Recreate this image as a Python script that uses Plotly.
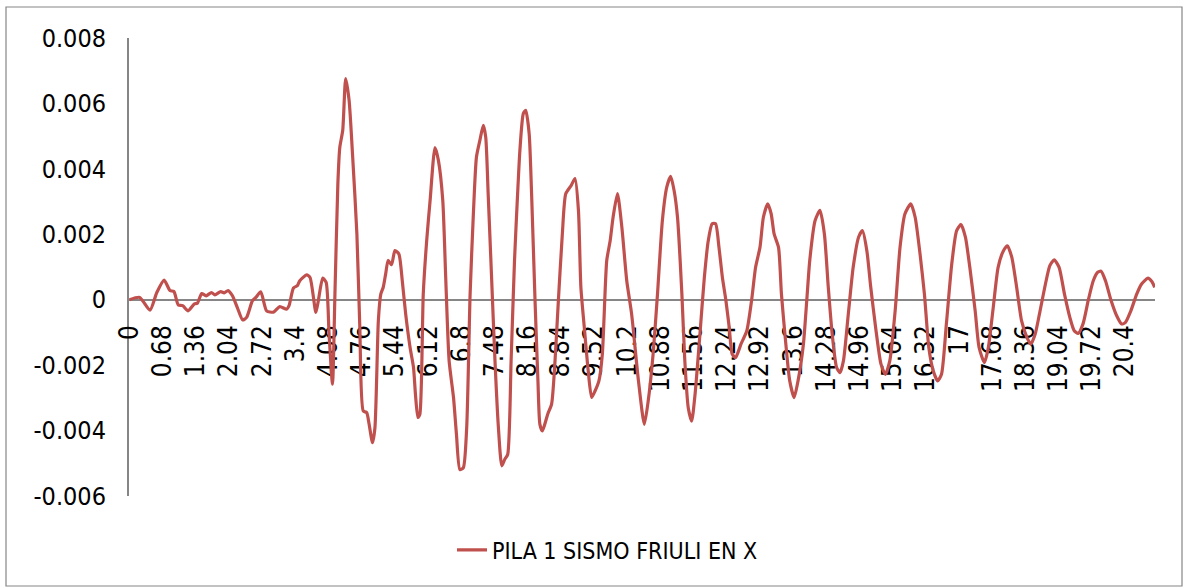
import plotly.graph_objects as go

# Time (s) and displacement values
time_s = [0, 0.21, 0.42, 0.56, 0.71, 0.83, 0.91, 1.0, 1.09, 1.2, 1.33, 1.39, 1.48, 1.57, 1.68, 1.75,
          1.87, 1.94, 2.02, 2.11, 2.21, 2.32, 2.4, 2.52, 2.59, 2.69, 2.81, 2.95, 3.08, 3.22, 3.27,
          3.36, 3.44, 3.49, 3.63, 3.70, 3.82, 3.87, 3.96, 4.03, 4.09, 4.16, 4.21, 4.27, 4.31, 4.37,
          4.43, 4.50, 4.57, 4.66, 4.72, 4.79, 4.86, 4.91, 4.98, 5.03, 5.10, 5.15, 5.20, 5.25, 5.30,
          5.37, 5.44, 5.52, 5.59, 5.66, 5.75, 5.82, 5.86, 5.91, 5.95, 6.02, 6.09, 6.16, 6.26, 6.33,
          6.42, 6.48, 6.55, 6.64, 6.70, 6.77, 6.84, 6.91, 6.98, 7.05, 7.11, 7.18, 7.25, 7.30, 7.35,
          7.42, 7.49, 7.56, 7.63, 7.69, 7.75, 7.82, 7.89, 7.96, 8.00, 8.07, 8.12, 8.19, 8.24, 8.31,
          8.37, 8.41, 8.46, 8.51, 8.57, 8.65, 8.72, 8.79, 8.87, 8.94, 9.05, 9.13, 9.20, 9.25, 9.32,
          9.40, 9.47, 9.54, 9.62, 9.69, 9.78, 9.85, 9.91, 10.00, 10.09, 10.19, 10.29, 10.43, 10.55,
          10.63, 10.73, 10.82, 10.92, 11.01, 11.09, 11.16, 11.23, 11.32, 11.38, 11.45, 11.52, 11.59,
          11.69, 11.78, 11.86, 11.94, 12.01, 12.08, 12.15, 12.22, 12.29, 12.35, 12.42, 12.53, 12.65,
          12.75, 12.83, 12.92, 12.99, 13.08, 13.15, 13.21, 13.30, 13.36, 13.45, 13.53, 13.62, 13.70,
          13.81, 13.88, 13.94, 14.05, 14.15, 14.24, 14.32, 14.40, 14.49, 14.56, 14.63, 14.73, 14.83,
          14.94, 15.02, 15.11, 15.19, 15.29, 15.40, 15.49, 15.58, 15.69, 15.79, 15.89, 16.01, 16.10,
          16.20, 16.29, 16.38, 16.47, 16.56, 16.64, 16.74, 16.85, 16.95, 17.04, 17.13, 17.22, 17.33,
          17.41, 17.52, 17.60, 17.70, 17.80, 17.91, 17.99, 18.08, 18.18, 18.28, 18.39, 18.47, 18.56,
          18.66, 18.77, 18.86, 18.95, 19.05, 19.16, 19.27, 19.36, 19.44, 19.54, 19.65, 19.75, 19.84,
          19.91, 20.00, 20.11, 20.23, 20.33, 20.41, 20.52, 20.64, 20.74, 20.87, 20.95, 21.01]

pila1_x = [0, 0.00007, -0.00032, 0.00022, 0.0006, 0.00028, 0.00025, -0.00016, -0.00018, -0.00034,
           -0.00013, -0.00011, 0.00019, 0.00012, 0.00022, 0.00015, 0.00025, 0.00021, 0.00028, 0.00012,
           -0.00024, -0.00062, -0.00054, -0.00003, 0.00007, 0.00024, -0.00034, -0.00038, -0.00021,
           -0.00029, -0.00018, 0.00036, 0.00043, 0.00058, 0.00076, 0.00068, -0.00039, -0.00003, 0.00066,
           0.00053, -0.00105, -0.00258, 0.00017, 0.00354, 0.00466, 0.00518, 0.00676, 0.0061, 0.00446,
           0.00201, -0.00085, -0.0034, -0.00345, -0.0038, -0.00437, -0.00391, -0.00064, 0.00017, 0.00038,
           0.00079, 0.0012, 0.00107, 0.0015, 0.0014, 0.00058, -0.00044, -0.00146, -0.00207, -0.00289,
           -0.0036, -0.0035, 0.00017, 0.0018, 0.00303, 0.00465, 0.00426, 0.00303, 0.00068, -0.00187,
           -0.00299, -0.00411, -0.00519, -0.00514, -0.00391, 0.00017, 0.00273, 0.00436, 0.00487, 0.00533,
           0.00497, 0.00324, 0.00068, -0.00187, -0.00391, -0.00508, -0.00488, -0.00473, -0.00187, 0.0012,
           0.00344, 0.00456, 0.00569, 0.00579, 0.00508, 0.00324, 0, -0.00248, -0.00381, -0.00401,
           -0.00381, -0.0035, -0.00319, -0.00187, 0, 0.00201, 0.00324, 0.00349, 0.0037, 0.00273, 0.00038,
           -0.00085, -0.00217, -0.00299, -0.00279, -0.00248, -0.00166, 0.0012, 0.0018, 0.00252, 0.00324,
           0.00221, 0.00058, -0.00044, -0.00248, -0.00381, -0.00309, -0.00166, 0.00017, 0.00242, 0.00344,
           0.00377, 0.00334, 0.00252, 0.00017, -0.00187, -0.0033, -0.00371, -0.00289, -0.00105, 0.00068,
           0.0018, 0.00232, 0.00232, 0.0016, 0.00068, 0, -0.00085, -0.00166, -0.00177, -0.00136,
           -0.00095, 0, 0.00099, 0.0016, 0.00252, 0.00293, 0.00262, 0.00201, 0.0016, 0.00017, -0.00136,
           -0.00248, -0.00299, -0.00248, -0.00136, 0, 0.0012, 0.00242, 0.00273, 0.00201, 0.00038,
           -0.00105, -0.00207, -0.00223, -0.00187, -0.00044, 0.00099, 0.00191, 0.00211, 0.0015, 0.00038,
           -0.00085, -0.00197, -0.00228, -0.00187, -0.00034, 0.0016, 0.00262, 0.00293, 0.00252, 0.0014,
           0.00017, -0.00146, -0.00217, -0.00248, -0.00228, -0.00074, 0.00109, 0.00211, 0.0023, 0.00191,
           0.00099, -0.00034, -0.00146, -0.00192, -0.00146, -0.00024, 0.00099, 0.0015, 0.00165, 0.0013,
           0.00038, -0.00064, -0.00115, -0.00136, -0.00105, -0.00034, 0.00048, 0.00104, 0.00122, 0.00099,
           0.00017, -0.00054, -0.00095, -0.00103, -0.00074, 0, 0.00058, 0.00084, 0.00087, 0.00058, 0,
           -0.00049, -0.00074, -0.00069, -0.00034, 0.00017, 0.00048, 0.00066, 0.00056, 0.00038]

series_name = "PILA 1 SISMO FRIULI EN X"

x_tick_vals = [0, 0.68, 1.36, 2.04, 2.72, 3.4, 4.08, 4.76, 5.44, 6.12, 6.8, 7.48, 8.16, 8.84, 9.52,
               10.2, 10.88, 11.56, 12.24, 12.92, 13.6, 14.28, 14.96, 15.64, 16.32, 17, 17.68, 18.36,
               19.04, 19.72, 20.4]
x_tick_text = ["0", "0.68", "1.36", "2.04", "2.72", "3.4", "4.08", "4.76", "5.44", "6.12", "6.8",
               "7.48", "8.16", "8.84", "9.52", "10.2", "10.88", "11.56", "12.24", "12.92", "13.6",
               "14.28", "14.96", "15.64", "16.32", "17", "17.68", "18.36", "19.04", "19.72", "20.4"]
y_tick_vals = [-0.006, -0.004, -0.002, 0, 0.002, 0.004, 0.006, 0.008]
y_tick_text = ["-0.006", "-0.004", "-0.002", "0", "0.002", "0.004", "0.006", "0.008"]

FONT = "Liberation Sans Narrow, Arial Narrow, DejaVu Sans Condensed, Liberation Sans, Arial, sans-serif"
AXIS_GRAY = "#868686"

W, H = 1186, 588
ML, MR, MT, MB = 129, 31, 38, 92
pw = W - ML - MR
ph = H - MT - MB


def px_x(p):
    return (p - ML) / pw


def px_y(p):
    return (H - MB - p) / ph


fig = go.Figure()
fig.add_trace(go.Scatter(
    x=time_s, y=pila1_x, mode="lines", name=series_name,
    line=dict(color="#C0504D", width=3.2, shape="spline", smoothing=0.6),
))

fig.update_layout(
    width=W, height=H,
    margin=dict(l=ML, r=MR, t=MT, b=MB),
    paper_bgcolor="white", plot_bgcolor="white",
    font=dict(family=FONT, color="black", size=25),
    showlegend=True,
    legend=dict(orientation="h", x=px_x(452), xanchor="left", y=px_y(550), yanchor="middle",
                font=dict(family=FONT, size=23, color="black"), bgcolor="rgba(0,0,0,0)"),
    xaxis=dict(range=[-0.01, 21.015], tickmode="array", tickvals=x_tick_vals, ticktext=x_tick_text,
               tickangle=-90, anchor="free", position=6 / 14, showline=True, linecolor=AXIS_GRAY,
               linewidth=2, showgrid=False, zeroline=False, ticks="", ticklabelstandoff=14,
               tickfont=dict(family=FONT, size=26, color="black"), layer="below traces"),
    yaxis=dict(range=[-0.006, 0.008], tickmode="array", tickvals=y_tick_vals, ticktext=y_tick_text,
               showline=True, linecolor=AXIS_GRAY, linewidth=2, showgrid=False, zeroline=False,
               ticks="", ticklabelstandoff=16, tickfont=dict(family=FONT, size=25, color="black"),
               layer="below traces"),
    shapes=[dict(type="rect", xref="paper", yref="paper", x0=px_x(6), x1=px_x(1182),
                 y0=px_y(586), y1=px_y(7), line=dict(color=AXIS_GRAY, width=1.2),
                 fillcolor="rgba(0,0,0,0)", layer="below")],
)

fig.write_html("out.html", config={"displayModeBar": False},
               post_script="document.body.style.margin='0';document.body.style.overflow='hidden';")
